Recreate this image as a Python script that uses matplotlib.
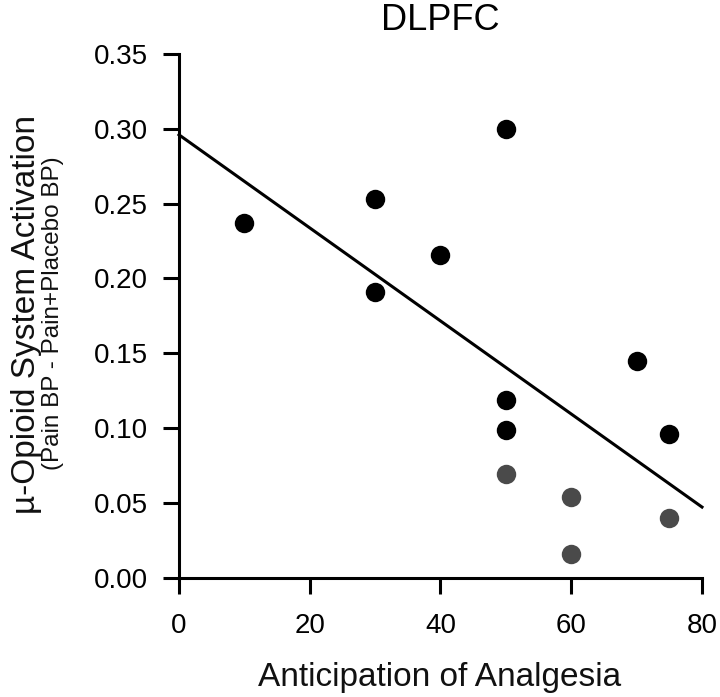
import numpy as np
import matplotlib
matplotlib.use('Agg')
import matplotlib.pyplot as plt

plt.rcParams['font.family'] = ['Liberation Sans', 'DejaVu Sans']

# data
x_black = [10, 30, 30, 40, 50, 50, 50, 70, 75]
y_black = [0.237, 0.253, 0.191, 0.216, 0.300, 0.119, 0.099, 0.145, 0.096]
x_gray = [50, 60, 60, 75]
y_gray = [0.069, 0.054, 0.016, 0.040]

# regression line
fit_intercept = 0.296
fit_slope = -0.00311
fit_x = [0, 80]

xticks = [0, 20, 40, 60, 80]
yticks = [0.00, 0.05, 0.10, 0.15, 0.20, 0.25, 0.30, 0.35]

fig = plt.figure(figsize=(7.2, 6.97), dpi=100)
ax = fig.add_axes([0.2486, 0.1712, 0.7264, 0.7513])

fx = np.array(fit_x, dtype=float)
ax.plot(fx, fit_intercept + fit_slope * fx, color='black', lw=2.2, clip_on=False, zorder=2)
ax.plot(x_black, y_black, 'o', color='black', ms=14, mew=0, clip_on=False, zorder=3)
ax.plot(x_gray, y_gray, 'o', color='#4a4a4a', ms=14, mew=0, clip_on=False, zorder=3)

ax.set_xlim(0, 80)
ax.set_ylim(0, 0.35)
ax.set_xticks(xticks)
ax.set_yticks(yticks)
ax.set_yticklabels(['%.2f' % v for v in yticks])

for s in ['top', 'right']:
    ax.spines[s].set_visible(False)
for s in ['left', 'bottom']:
    ax.spines[s].set_linewidth(2.2)

ax.tick_params(axis='both', direction='out', length=11.5, width=2.2, labelsize=20, colors='black')
ax.tick_params(axis='x', pad=14)
ax.tick_params(axis='y', pad=11)

ax.set_title('DLPFC', fontsize=26, pad=17)

fig.text(440 / 720, 1 - 686 / 697, 'Anticipation of Analgesia', fontsize=24,
         ha='center', va='baseline', color='#111111')
fig.text(27 / 720, 1 - 315 / 697, 'µ-Opioid System Activation', rotation=90,
         fontsize=24, ha='center', va='center', color='#111111')
fig.text(53 / 720, 1 - 313 / 697, '(Pain BP - Pain+Placebo BP)', rotation=90,
         fontsize=17.5, ha='center', va='center', color='#111111')

fig.savefig('out.png', dpi=100)
